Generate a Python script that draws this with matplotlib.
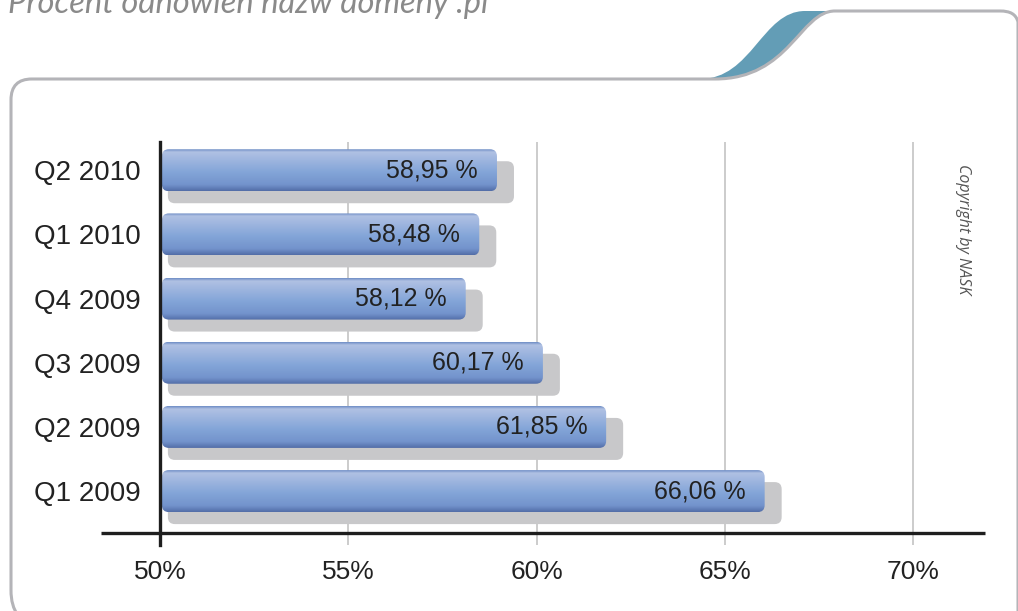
import matplotlib
matplotlib.use("Agg")
import numpy as np
import matplotlib.pyplot as plt
from matplotlib.patches import FancyBboxPatch, PathPatch
from matplotlib.path import Path
from matplotlib.colors import LinearSegmentedColormap

# data
quarters = ["Q1 2009", "Q2 2009", "Q3 2009", "Q4 2009", "Q1 2010", "Q2 2010"]
renewal_pct = [66.06, 61.85, 60.17, 58.12, 58.48, 58.95]
value_labels = ["66,06 %", "61,85 %", "60,17 %", "58,12 %", "58,48 %", "58,95 %"]
xtick_vals = [50, 55, 60, 65, 70]
xtick_labels = ["50%", "55%", "60%", "65%", "70%"]

title = "Procent odnowień nazw domeny .pl"
copyright_txt = "Copyright by NASK"

W, H = 1018, 611
fig = plt.figure(figsize=(W / 100, H / 100), dpi=100)

# background layer in pixel coordinates (frame, wave, title)
bg = fig.add_axes([0, 0, 1, 1], zorder=0)
bg.set_xlim(0, W)
bg.set_ylim(H, 0)
bg.axis("off")

frame_verts = [
    (40, 640),
    (20, 620), (11, 612), (11, 590),
    (11, 100),
    (11, 86), (18, 79), (32, 79),
    (715, 79),
    (790, 79), (800, 11), (835, 11),
    (1000, 11),
    (1010, 11), (1016, 14), (1018, 22),
    (1018, 700),
]
frame_codes = [Path.MOVETO,
               Path.CURVE4, Path.CURVE4, Path.CURVE4,
               Path.LINETO,
               Path.CURVE4, Path.CURVE4, Path.CURVE4,
               Path.LINETO,
               Path.CURVE4, Path.CURVE4, Path.CURVE4,
               Path.LINETO,
               Path.CURVE4, Path.CURVE4, Path.CURVE4,
               Path.LINETO]

wave_verts = [
    (700, 79),
    (752, 79), (762, 11), (805, 11),
    (835, 11),
    (800, 11), (790, 79), (715, 79),
    (700, 79),
]
wave_codes = [Path.MOVETO,
              Path.CURVE4, Path.CURVE4, Path.CURVE4,
              Path.LINETO,
              Path.CURVE4, Path.CURVE4, Path.CURVE4,
              Path.CLOSEPOLY]
bg.add_patch(PathPatch(Path(wave_verts, wave_codes), facecolor="#639db6",
                       edgecolor="none", zorder=1))
bg.add_patch(PathPatch(Path(frame_verts, frame_codes), facecolor="none",
                       edgecolor="#b4b4b8", lw=2.2, zorder=2, clip_on=False))

bg.text(8, 13, title, fontsize=23.5, style="italic", color="#8a8a8a",
        family="Lato", va="baseline", ha="left")
bg.text(963, 229, copyright_txt, fontsize=11.5, style="italic", color="#555555",
        family="Open Sans", rotation=-90, va="center", ha="center")

# chart axes: left edge on the 50% line
ax = fig.add_axes([160 / W, (H - 545) / H, (985 - 160) / W, (545 - 142) / H], zorder=1)
ax.patch.set_alpha(0)
xmax = 50 + (985 - 160) / 37.65
ax.set_xlim(50, xmax)
ax.set_ylim(-0.84, 5.44)

px_x = 37.65   # pixels per percent
px_y = 403 / 6.28  # pixels per category step
bar_h = 42 / px_y
rad = 7 / px_x
aspect = px_x / px_y

cmap = LinearSegmentedColormap.from_list("bar", [
    (0.0, "#6d8cc5"), (0.07, "#b0c1e3"), (0.25, "#9fb6df"),
    (0.55, "#83a5d8"), (0.85, "#7393cc"), (1.0, "#526da7")])
grad = np.linspace(0, 1, 256).reshape(-1, 1)

x0 = 50.05
for i, (v, lab) in enumerate(zip(renewal_pct, value_labels)):
    # shadow
    sh = FancyBboxPatch((x0 + 6 / px_x, i - bar_h / 2 - 12 / px_y),
                        v - x0 + 11 / px_x, bar_h,
                        boxstyle=f"round,pad=0,rounding_size={rad}",
                        mutation_aspect=aspect, facecolor="#c8c8ca",
                        edgecolor="none", zorder=2)
    ax.add_patch(sh)
    bar = FancyBboxPatch((x0, i - bar_h / 2), v - x0, bar_h,
                         boxstyle=f"round,pad=0,rounding_size={rad}",
                         mutation_aspect=aspect, facecolor="none",
                         edgecolor="none", zorder=3)
    ax.add_patch(bar)
    im = ax.imshow(grad, cmap=cmap, aspect="auto", origin="upper",
                   extent=(x0, v, i - bar_h / 2, i + bar_h / 2), zorder=3)
    im.set_clip_path(bar)
    ax.text(v - 19 / px_x, i, lab, ha="right", va="center", fontsize=18,
            family="Liberation Sans", color="#222222", zorder=4)

ax.set_xlim(50, xmax)
ax.set_ylim(-0.84, 5.44)

for g in xtick_vals[1:]:
    ax.axvline(g, color="#c4c4c4", lw=1.2, zorder=1)

# axis lines
for s in ["top", "right", "bottom"]:
    ax.spines[s].set_visible(False)
ax.spines["left"].set_linewidth(2.4)
ax.spines["left"].set_color("#1e1e1e")
ax.spines["left"].set_zorder(5)
ax.plot([50 - 59 / px_x, xmax], [-0.654, -0.654], color="#1e1e1e", lw=2.4,
        clip_on=False, zorder=5, solid_capstyle="butt")

ax.set_xticks(xtick_vals, xtick_labels)
ax.set_yticks(range(len(quarters)), quarters)
ax.tick_params(axis="x", length=0, labelsize=19, labelcolor="#222222", pad=11)
ax.tick_params(axis="y", length=0, labelsize=20, labelcolor="#222222", pad=14)
for t in ax.get_xticklabels() + ax.get_yticklabels():
    t.set_family("Liberation Sans")

fig.savefig("out.png", dpi=100)
